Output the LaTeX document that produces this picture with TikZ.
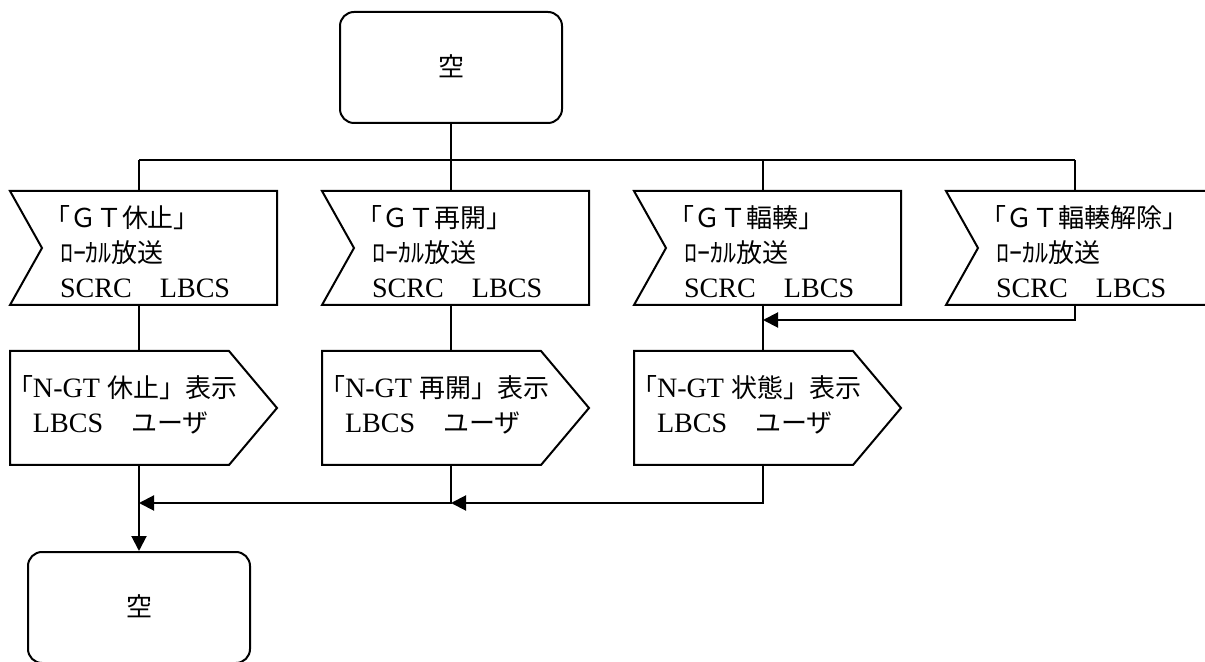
\documentclass[tikz,border=0pt]{standalone}
\usepackage{fontspec}
\setmainfont{Liberation Serif}[Scale=1.08]
\newfontfamily\jp{Noto Sans CJK JP}
\usetikzlibrary{arrows.meta,positioning,calc}

\begin{document}
\begin{tikzpicture}[x=0.5pt, y=-0.5pt, line width=1pt, >={Triangle[length=7.5pt,width=7.5pt]},
	every node/.style={font=\fontsize{13}{17.5}\selectfont}]
	\tikzstyle{term}=[draw, rounded corners=7pt, minimum width=111pt, minimum height=55.5pt, inner sep=0pt]
	\tikzstyle{frame}=[minimum width=132.5pt, minimum height=56pt, inner sep=0pt]
	\tikzstyle{txt}=[anchor=west, align=left, inner sep=0pt]
	\useasboundingbox (0,0) rectangle (1205,662);

	\node[term] (start) at (451,67.5) {\raisebox{2pt}{\jp 空}};
	\node[term] (end) at (139,607.5) {\raisebox{2pt}{\jp 空}};

	% receive boxes
	\node[frame] (r1) at (143.5,248) {};
	\node[frame] (r2) at (455.5,248) {};
	\node[frame] (r3) at (767.5,248) {};
	\node[frame] (r4) at (1079.5,248) {};
	\foreach \n in {r1,r2,r3,r4}
		\draw (\n.north west) -- (\n.north east) -- (\n.south east) -- (\n.south west) -- ([xshift=16pt]\n.west) -- cycle;
	\node[txt] (tr1) at ([xshift=24.5pt,yshift=-2pt]r1.west) {\hspace*{-8pt}{\jp 「ＧＴ休止」}\\{\jp ﾛｰｶﾙ放送}\\SCRC\hspace{1em}LBCS};
	\node[txt] (tr2) at ([xshift=24.5pt,yshift=-2pt]r2.west) {\hspace*{-8pt}{\jp 「ＧＴ再開」}\\{\jp ﾛｰｶﾙ放送}\\SCRC\hspace{1em}LBCS};
	\node[txt] (tr3) at ([xshift=24.5pt,yshift=-2pt]r3.west) {\hspace*{-8pt}{\jp 「ＧＴ輻輳」}\\{\jp ﾛｰｶﾙ放送}\\SCRC\hspace{1em}LBCS};
	\node[txt] (tr4) at ([xshift=24.5pt,yshift=-2pt]r4.west) {\hspace*{-8pt}{\jp 「ＧＴ輻輳解除」}\\{\jp ﾛｰｶﾙ放送}\\SCRC\hspace{1em}LBCS};

	% display boxes
	\node[frame] (p1) at (143.5,408) {};
	\node[frame] (p2) at (455.5,408) {};
	\node[frame] (p3) at (767.5,408) {};
	\foreach \n in {p1,p2,p3}
		\draw (\n.north west) -- ([xshift=-24pt]\n.north east) -- (\n.east) -- ([xshift=-24pt]\n.south east) -- (\n.south west) -- cycle;
	\node[txt] (tp1) at ([xshift=-2pt,yshift=1.5pt]p1.west) {{\jp 「}N-GT {\jp 休止」表示}\\\hspace*{13pt}LBCS\hspace{1em}{\jp ユーザ}};
	\node[txt] (tp2) at ([xshift=-2pt,yshift=1.5pt]p2.west) {{\jp 「}N-GT {\jp 再開」表示}\\\hspace*{13pt}LBCS\hspace{1em}{\jp ユーザ}};
	\node[txt] (tp3) at ([xshift=-2pt,yshift=1.5pt]p3.west) {{\jp 「}N-GT {\jp 状態」表示}\\\hspace*{13pt}LBCS\hspace{1em}{\jp ユーザ}};

	% connectors
	\coordinate (b1) at (139,160);
	\coordinate (b2) at (451,160);
	\coordinate (b3) at (763,160);
	\coordinate (b4) at (1075,160);
	\coordinate (m) at (0,320);
	\coordinate (j) at (0,503);
	\draw (start) -- (b2);
	\draw (b1) -- (b4);
	\foreach \i in {1,...,4}
		\draw (b\i) -- (b\i |- r\i.north);
	\foreach \i in {1,2,3}
		\draw (b\i |- r\i.south) -- (b\i |- p\i.north);
	\draw[->] (b4 |- r4.south) |- (b3 |- m);
	\draw[->] (b3 |- p3.south) |- (b2 |- j);
	\draw[->] (b2 |- p2.south) |- (b1 |- j);
	\draw[->] (b1 |- p1.south) -- (end);
\end{tikzpicture}
\end{document}
